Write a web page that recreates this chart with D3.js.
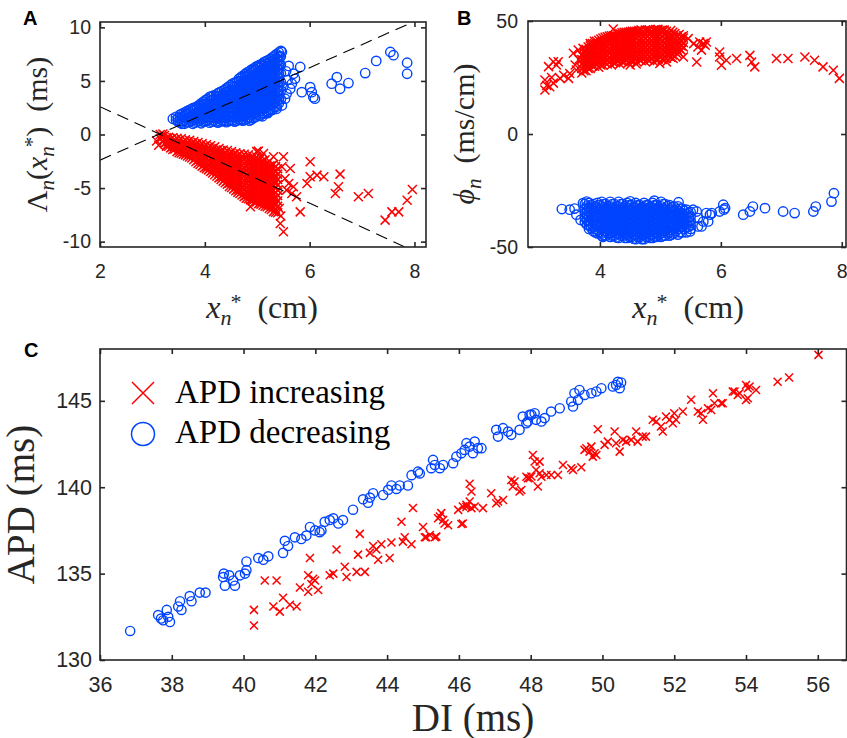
<!DOCTYPE html>
<html>
<head>
<meta charset="utf-8">
<script src="https://cdn.jsdelivr.net/npm/d3@7"></script>
<style>
  body { margin: 0; background: #fff; }
  svg { display: block; }
</style>
</head>
<body>
<svg id="fig" width="847" height="738"></svg>
<script>
// ---------- panel A : Lambda_n(x*_n) ----------
// dense parts stored as columns: [x, y1, y2, ...]
var aDecCols = [
  [3.45,1.35,1.65],
  [3.49,1.2,1.55],
  [3.53,1.1,1.5,1.85],
  [3.57,1.25,1.65,1.95],
  [3.61,1.0,1.35,1.75,2.05],
  [3.65,1.15,1.55,1.9,2.15],
  [3.69,1.15,1.55,1.95,2.25],
  [3.73,1.25,1.65,2.05,2.35],
  [3.77,1.0,1.4,1.8,2.2,2.45],
  [3.81,1.1,1.5,1.9,2.3,2.5],
  [3.85,1.2,1.6,2.0,2.4,2.6],
  [3.89,1.25,1.65,2.05,2.45,2.75],
  [3.93,1.05,1.45,1.85,2.25,2.65,2.9],
  [3.97,1.2,1.6,2.0,2.4,2.8,3.05],
  [4.01,1.25,1.65,2.05,2.45,2.85,3.2],
  [4.05,1.3,1.7,2.1,2.5,2.9,3.3],
  [4.09,1.1,1.5,1.9,2.3,2.7,3.1,3.5],
  [4.13,1.2,1.6,2.0,2.4,2.8,3.2,3.55],
  [4.17,1.3,1.7,2.1,2.5,2.9,3.3,3.65],
  [4.21,1.2,1.6,2.0,2.4,2.8,3.2,3.6],
  [4.25,1.1,1.5,1.9,2.3,2.7,3.1,3.5,3.85],
  [4.29,1.2,1.6,2.0,2.4,2.8,3.2,3.6,3.95],
  [4.33,1.3,1.7,2.1,2.5,2.9,3.3,3.7,4.05],
  [4.37,1.25,1.65,2.05,2.45,2.85,3.25,3.65,4.15],
  [4.41,1.15,1.55,1.95,2.35,2.75,3.15,3.55,3.95,4.3],
  [4.45,1.25,1.65,2.05,2.45,2.85,3.25,3.65,4.05,4.45],
  [4.49,1.35,1.75,2.15,2.55,2.95,3.35,3.75,4.15,4.6],
  [4.53,1.3,1.7,2.1,2.5,2.9,3.3,3.7,4.1,4.5,4.75],
  [4.57,1.2,1.6,2.0,2.4,2.8,3.2,3.6,4.0,4.4,4.85],
  [4.61,1.3,1.7,2.1,2.5,2.9,3.3,3.7,4.1,4.5,4.9],
  [4.65,1.4,1.8,2.2,2.6,3.0,3.4,3.8,4.2,4.6,5.0,5.2],
  [4.69,1.35,1.75,2.15,2.55,2.95,3.35,3.75,4.15,4.55,4.95,5.35],
  [4.73,1.3,1.7,2.1,2.5,2.9,3.3,3.7,4.1,4.5,4.9,5.5],
  [4.77,1.4,1.8,2.2,2.6,3.0,3.4,3.8,4.2,4.6,5.0,5.4,5.65],
  [4.81,1.5,1.9,2.3,2.7,3.1,3.5,3.9,4.3,4.7,5.1,5.5,5.8],
  [4.85,1.6,2.0,2.4,2.8,3.2,3.6,4.0,4.4,4.8,5.2,5.6,5.9],
  [4.89,1.4,1.8,2.2,2.6,3.0,3.4,3.8,4.2,4.6,5.0,5.4,5.8,6.05],
  [4.93,1.55,1.95,2.35,2.75,3.15,3.55,3.95,4.35,4.75,5.15,5.55,5.95,6.15],
  [4.97,1.65,2.05,2.45,2.85,3.25,3.65,4.05,4.45,4.85,5.25,5.65,6.05,6.3],
  [5.01,1.85,2.25,2.65,3.05,3.45,3.85,4.25,4.65,5.05,5.45,5.85,6.25,6.4],
  [5.05,1.75,2.2,2.6,3.0,3.4,3.8,4.2,4.6,5.0,5.4,5.8,6.2,6.5],
  [5.09,2.0,2.4,2.8,3.2,3.6,4.0,4.4,4.8,5.2,5.6,6.0,6.4,6.6],
  [5.13,1.95,2.4,2.8,3.2,3.6,4.0,4.4,4.8,5.2,5.6,6.0,6.4,6.75],
  [5.17,2.2,2.6,3.0,3.4,3.8,4.2,4.6,5.0,5.4,5.8,6.2,6.6,6.85],
  [5.21,2.1,2.6,3.0,3.4,3.8,4.2,4.6,5.0,5.4,5.8,6.2,6.6,6.95],
  [5.25,2.4,2.8,3.2,3.6,4.0,4.4,4.8,5.2,5.6,6.0,6.4,6.8,7.05],
  [5.29,2.3,2.8,3.2,3.6,4.0,4.4,4.8,5.2,5.6,6.0,6.4,6.8,7.2],
  [5.33,2.6,3.0,3.4,3.8,4.2,4.6,5.0,5.4,5.8,6.2,6.6,7.0,7.35],
  [5.37,2.6,3.1,3.5,3.9,4.3,4.7,5.1,5.5,5.9,6.3,6.7,7.1,7.5],
  [5.41,2.9,3.3,3.7,4.1,4.5,4.9,5.3,5.7,6.1,6.5,6.9,7.3,7.65],
  [5.45,3.3,4.1,4.9,5.7,6.5,7.3,7.8]
];
var aDecPts = [
  [3.39,1.47],[3.56,1.0],[5.47,7.7],[5.44,7.23],[5.82,6.3],[5.69,5.67],[5.72,5.2],
  [5.66,4.74],[5.63,4.27],[5.56,3.8],[5.53,3.34],[5.47,2.71],[5.37,2.4],[5.25,2.24],
  [5.05,1.78],[5.85,3.95],[6.01,4.42],[6.04,3.95],[6.07,3.48],[6.1,3.34],[6.42,4.74],
  [6.52,5.35],[6.58,4.27],[6.74,4.8],[7.06,5.73],[7.27,6.87],[7.54,7.7],[7.6,7.4],
  [7.86,6.7],[7.86,5.67],[5.55,5.9],[5.6,6.4],[5.5,4.5],[5.58,5.1],[5.2,2.0],
  [4.85,1.3],[5.1,1.7]
];
var aIncCols = [
  [3.15,0.0,-0.4],
  [3.19,-0.2,-0.6],
  [3.23,-0.1,-0.5,-0.85],
  [3.27,-0.3,-0.7,-1.0],
  [3.31,-0.25,-0.65,-1.1],
  [3.35,-0.4,-0.85,-1.25],
  [3.39,-0.3,-0.75,-1.15,-1.4],
  [3.43,-0.5,-0.95,-1.35],
  [3.47,-0.35,-0.8,-1.2,-1.6],
  [3.51,-0.55,-1.0,-1.45,-1.7],
  [3.55,-0.4,-0.85,-1.3,-1.75],
  [3.59,-0.65,-1.1,-1.55,-1.85],
  [3.63,-0.5,-0.95,-1.35,-1.9],
  [3.67,-0.7,-1.15,-1.6,-2.0],
  [3.71,-0.55,-1.0,-1.45,-1.85,-2.1],
  [3.75,-0.8,-1.25,-1.7,-2.2],
  [3.79,-0.65,-1.1,-1.5,-1.95,-2.35],
  [3.83,-0.9,-1.35,-1.8,-2.2,-2.55],
  [3.87,-0.75,-1.2,-1.6,-2.0,-2.4,-2.7],
  [3.91,-1.0,-1.45,-1.9,-2.3,-2.8],
  [3.95,-0.85,-1.3,-1.7,-2.1,-2.55,-2.95],
  [3.99,-1.1,-1.55,-2.0,-2.4,-2.8,-3.1],
  [4.03,-0.95,-1.4,-1.8,-2.2,-2.6,-3.0,-3.2],
  [4.07,-1.2,-1.65,-2.1,-2.5,-2.9,-3.3],
  [4.11,-1.05,-1.5,-1.9,-2.3,-2.7,-3.1,-3.45],
  [4.15,-1.3,-1.7,-2.1,-2.5,-2.9,-3.3,-3.6],
  [4.19,-1.15,-1.6,-2.0,-2.45,-2.85,-3.25,-3.75],
  [4.23,-1.45,-1.85,-2.25,-2.65,-3.05,-3.45,-3.9],
  [4.27,-1.3,-1.7,-2.1,-2.5,-2.9,-3.3,-3.7,-4.05],
  [4.31,-1.5,-1.95,-2.35,-2.75,-3.15,-3.55,-3.95,-4.2],
  [4.35,-1.45,-1.9,-2.3,-2.7,-3.1,-3.5,-3.9,-4.35],
  [4.39,-1.7,-2.1,-2.5,-2.9,-3.3,-3.7,-4.1,-4.5],
  [4.43,-1.5,-1.95,-2.35,-2.75,-3.15,-3.55,-3.95,-4.35,-4.65],
  [4.47,-1.75,-2.15,-2.55,-2.95,-3.35,-3.75,-4.15,-4.55,-4.85],
  [4.51,-1.6,-2.1,-2.5,-2.9,-3.3,-3.7,-4.1,-4.5,-4.95],
  [4.55,-1.85,-2.3,-2.7,-3.1,-3.5,-3.9,-4.3,-4.7,-5.1],
  [4.59,-1.7,-2.15,-2.55,-2.95,-3.35,-3.75,-4.15,-4.55,-4.95,-5.25],
  [4.63,-1.95,-2.35,-2.75,-3.15,-3.55,-3.95,-4.35,-4.75,-5.15,-5.4],
  [4.67,-1.8,-2.3,-2.7,-3.1,-3.5,-3.9,-4.3,-4.7,-5.1,-5.5],
  [4.71,-2.05,-2.5,-2.9,-3.3,-3.7,-4.1,-4.5,-4.9,-5.3,-5.65],
  [4.75,-1.85,-2.3,-2.7,-3.1,-3.5,-3.9,-4.3,-4.7,-5.1,-5.5,-5.8],
  [4.79,-2.1,-2.5,-2.9,-3.3,-3.7,-4.1,-4.5,-4.9,-5.3,-5.7,-5.95],
  [4.83,-1.9,-2.4,-2.8,-3.2,-3.6,-4.0,-4.4,-4.8,-5.2,-5.6,-6.0],
  [4.87,-2.2,-2.6,-3.0,-3.4,-3.8,-4.2,-4.6,-5.0,-5.4,-5.8,-6.1],
  [4.91,-2.0,-2.45,-2.85,-3.25,-3.65,-4.05,-4.45,-4.85,-5.25,-5.65,-6.05,-6.2],
  [4.95,-2.3,-2.8,-3.2,-3.6,-4.0,-4.4,-4.8,-5.2,-5.6,-6.0,-6.3],
  [4.99,-2.1,-2.6,-3.0,-3.4,-3.8,-4.2,-4.6,-5.0,-5.4,-5.8,-6.3],
  [5.03,-2.4,-2.85,-3.25,-3.65,-4.05,-4.45,-4.85,-5.25,-5.65,-6.05,-6.45],
  [5.07,-2.2,-2.65,-3.05,-3.45,-3.85,-4.25,-4.65,-5.05,-5.45,-5.85,-6.25,-6.5],
  [5.11,-2.55,-3.0,-3.4,-3.8,-4.2,-4.6,-5.0,-5.4,-5.8,-6.2,-6.6],
  [5.15,-2.35,-2.8,-3.2,-3.6,-4.0,-4.4,-4.8,-5.2,-5.6,-6.0,-6.4,-6.7],
  [5.19,-2.7,-3.15,-3.55,-3.95,-4.35,-4.75,-5.15,-5.55,-5.95,-6.35,-6.75],
  [5.23,-2.5,-2.95,-3.35,-3.75,-4.15,-4.55,-4.95,-5.35,-5.75,-6.15,-6.55,-6.9],
  [5.27,-2.9,-3.4,-3.8,-4.2,-4.6,-5.0,-5.4,-5.8,-6.2,-6.6,-7.0],
  [5.31,-2.8,-3.2,-3.6,-4.0,-4.4,-4.8,-5.2,-5.6,-6.0,-6.4,-6.8,-7.2],
  [5.35,-3.0,-3.45,-3.95,-4.45,-4.95,-5.45,-5.95,-6.45,-6.95,-7.25],
  [5.39,-3.2,-3.7,-4.2,-4.7,-5.2,-5.7,-6.2,-6.7,-7.3]
];
var aIncPts = [
  [3.08,-0.6],[3.12,-1.0],[3.27,-1.1],[3.2,0.05],[4.99,-1.6],[5.02,-1.55],[5.12,-1.77],
  [5.31,-2.08],[5.5,-2.08],[5.47,-3.01],[5.63,-3.17],[5.53,-4.1],[5.6,-4.57],[5.69,-4.88],
  [5.66,-5.5],[5.75,-5.81],[5.56,-5.19],[6.01,-2.54],[6.01,-3.95],[5.95,-4.57],[6.14,-3.79],
  [6.27,-3.95],[6.58,-3.7],[6.55,-4.88],[6.49,-5.5],[6.93,-5.81],[7.12,-5.5],[5.82,-7.22],
  [5.44,-8.3],[5.5,-9.08],[7.44,-7.99],[7.57,-7.22],[7.7,-7.22],[7.86,-6.13],[7.96,-5.13],
  [4.87,-6.75],[5.45,-7.6],[5.42,-6.9]
];
// dashed guide lines (end points)
var guideUp = [[2, -2.4], [8.22, 11.03]];
var guideDown = [[2, 2.6], [8.22, -11.4]];

// ---------- panel B : phi_n ----------
var bIncCols = [
  [3.70,27,29,31,33,35],
  [3.735,28,30,32,34,36],
  [3.77,28,30,32,34,36,37.5],
  [3.805,29,31,33,35,37,38.5],
  [3.84,29,31,33,35,37,39,40],
  [3.875,30,32,34,36,38,40],
  [3.91,30,32,34,36,38,40,41],
  [3.945,31,33,35,37,39,41],
  [3.98,29.5,31.5,33.5,35.5,37.5,39.5,41.5],
  [4.015,30.5,32.5,34.5,36.5,38.5,40.5,42],
  [4.05,30.5,32.5,34.5,36.5,38.5,40.5,42.5],
  [4.085,31.5,33.5,35.5,37.5,39.5,41.5,42.8],
  [4.12,31,33,35,37,39,41,43],
  [4.155,32,34,36,38,40,42,43.3],
  [4.19,30.5,32.5,34.5,36.5,38.5,40.5,42.5,43.5],
  [4.225,31.5,33.5,35.5,37.5,39.5,41.5,43.5],
  [4.26,31.5,33.5,35.5,37.5,39.5,41.5,43.5],
  [4.295,32.5,34.5,36.5,38.5,40.5,42.5,44.3],
  [4.33,31,33,35,37,39,41,43,44.5],
  [4.365,32,34,36,38,40,42,44,44.8],
  [4.40,32,34,36,38,40,42,44,45],
  [4.435,33,35,37,39,41,43,45],
  [4.47,31.5,33.5,35.5,37.5,39.5,41.5,43.5,45],
  [4.505,32.5,34.5,36.5,38.5,40.5,42.5,44.5,45.3],
  [4.54,32.5,34.5,36.5,38.5,40.5,42.5,44.5,45.5],
  [4.575,33.5,35.5,37.5,39.5,41.5,43.5,45.5],
  [4.61,32,34,36,38,40,42,44,45.5],
  [4.645,33,35,37,39,41,43,45,45.8],
  [4.68,32.5,34.5,36.5,38.5,40.5,42.5,44.5,46],
  [4.715,33.5,35.5,37.5,39.5,41.5,43.5,45.5],
  [4.75,32,34,36,38,40,42,44,46],
  [4.785,33,35,37,39,41,43,45,46],
  [4.82,32.5,34.5,36.5,38.5,40.5,42.5,44.5,46],
  [4.855,33.5,35.5,37.5,39.5,41.5,43.5,45.5],
  [4.89,32,34,36,38,40,42,44,46],
  [4.925,33,35,37,39,41,43,45,46.2],
  [4.96,33,35,37,39,41,43,45,46.3],
  [4.995,34,36,38,40,42,44,45.8],
  [5.03,33,35,37,39,41,43,45,46],
  [5.065,34,36,38,40,42,44,46],
  [5.10,33.5,35.5,37.5,39.5,41.5,43.5,45.5],
  [5.135,34.5,36.5,38.5,40.5,42.5,44.5],
  [5.17,34,36,38,40,42,44,45.8],
  [5.205,35,37,39,41,43,45],
  [5.24,34.5,36.5,38.5,40.5,42.5,44.5],
  [5.275,35.5,37.5,39.5,41.5,43.5],
  [5.31,36,38,40,42,44],
  [5.345,37,39,41,43],
  [5.38,38.5,40.5,42.5,43.5]
];
var bIncPts = [
  [3.09,19.5],[3.09,23.9],[3.17,20.9],[3.23,22.5],[3.34,24.6],[3.48,24.6],[3.15,29.8],
  [3.23,32.0],[3.31,32.0],[3.28,30.5],[3.56,35.7],[3.64,37.2],[3.72,37.9],[3.59,30.5],
  [3.61,28.3],[3.5,26.8],[3.12,21.5],[3.2,25],[3.4,26],[3.65,33],[4.99,31.2],[5.1,31.9],
  [5.21,33.4],[5.38,34.1],[5.46,42.2],[5.55,40.0],[5.62,38.5],[5.68,37.1],[5.74,39.3],
  [5.65,40.7],[5.76,40.7],[5.6,31.9],[5.71,40.0],[5.98,36.3],[5.98,34.1],[6.01,30.4],
  [6.09,32.6],[6.26,33.4],[6.48,34.8],[6.51,31.9],[6.56,29.7],[6.92,33.4],[7.11,33.4],
  [7.39,34.1],[7.55,32.6],[7.69,29.7],[7.86,28.2],[7.96,24.6],[4.22,46.5],[4.6,31],[4.5,30.5]
];
var bDecCols = [
  [3.75,-31,-33,-35,-37,-39],
  [3.785,-32,-34,-36,-38,-40],
  [3.82,-30.5,-32.5,-34.5,-36.5,-38.5,-40.5,-42],
  [3.855,-31.5,-33.5,-35.5,-37.5,-39.5,-41.5],
  [3.89,-31,-33,-35,-37,-39,-41,-43],
  [3.925,-32,-34,-36,-38,-40,-42,-43.5],
  [3.96,-30.5,-32.5,-34.5,-36.5,-38.5,-40.5,-42.5,-44],
  [3.995,-31.5,-33.5,-35.5,-37.5,-39.5,-41.5,-43.5],
  [4.03,-30,-32,-34,-36,-38,-40,-42,-44,-45],
  [4.065,-31,-33,-35,-37,-39,-41,-43,-44.8],
  [4.10,-31,-33,-35,-37,-39,-41,-43,-45],
  [4.135,-32,-34,-36,-38,-40,-42,-44],
  [4.17,-30,-32,-34,-36,-38,-40,-42,-44,-45.5],
  [4.205,-31,-33,-35,-37,-39,-41,-43,-45],
  [4.24,-31,-33,-35,-37,-39,-41,-43,-45],
  [4.275,-32,-34,-36,-38,-40,-42,-44,-45.8],
  [4.31,-30,-32,-34,-36,-38,-40,-42,-44,-46],
  [4.345,-31,-33,-35,-37,-39,-41,-43,-45],
  [4.38,-31,-33,-35,-37,-39,-41,-43,-45],
  [4.415,-32,-34,-36,-38,-40,-42,-44,-46],
  [4.45,-30.5,-32.5,-34.5,-36.5,-38.5,-40.5,-42.5,-44.5,-46],
  [4.485,-31.5,-33.5,-35.5,-37.5,-39.5,-41.5,-43.5,-45.5],
  [4.52,-31.5,-33.5,-35.5,-37.5,-39.5,-41.5,-43.5,-45.5],
  [4.555,-32.5,-34.5,-36.5,-38.5,-40.5,-42.5,-44.5,-46.3],
  [4.59,-30.5,-32.5,-34.5,-36.5,-38.5,-40.5,-42.5,-44.5,-46.5],
  [4.625,-31.5,-33.5,-35.5,-37.5,-39.5,-41.5,-43.5,-45.5],
  [4.66,-31.5,-33.5,-35.5,-37.5,-39.5,-41.5,-43.5,-45.5],
  [4.695,-32.5,-34.5,-36.5,-38.5,-40.5,-42.5,-44.5,-46.5],
  [4.73,-30.5,-32.5,-34.5,-36.5,-38.5,-40.5,-42.5,-44.5,-46.5],
  [4.765,-31.5,-33.5,-35.5,-37.5,-39.5,-41.5,-43.5,-45.5],
  [4.80,-31.5,-33.5,-35.5,-37.5,-39.5,-41.5,-43.5,-45.5],
  [4.835,-32.5,-34.5,-36.5,-38.5,-40.5,-42.5,-44.5,-46],
  [4.87,-30.5,-32.5,-34.5,-36.5,-38.5,-40.5,-42.5,-44.5,-46],
  [4.905,-31.5,-33.5,-35.5,-37.5,-39.5,-41.5,-43.5,-45.5],
  [4.94,-31.5,-33.5,-35.5,-37.5,-39.5,-41.5,-43.5,-45.5],
  [4.975,-32.5,-34.5,-36.5,-38.5,-40.5,-42.5,-44.5],
  [5.01,-30,-32,-34,-36,-38,-40,-42,-44,-45.5],
  [5.045,-31,-33,-35,-37,-39,-41,-43,-45],
  [5.08,-31,-33,-35,-37,-39,-41,-43,-45],
  [5.115,-32,-34,-36,-38,-40,-42,-44],
  [5.15,-31.5,-33.5,-35.5,-37.5,-39.5,-41.5,-43.5,-45],
  [5.185,-32.5,-34.5,-36.5,-38.5,-40.5,-42.5,-44.5],
  [5.22,-32,-34,-36,-38,-40,-42,-44],
  [5.255,-33,-35,-37,-39,-41,-43],
  [5.29,-32,-34,-36,-38,-40,-42,-44.5],
  [5.325,-33,-35,-37,-39,-41,-43.5],
  [5.36,-33,-35,-37,-39,-41,-43.5],
  [5.395,-34,-36,-38,-40,-42],
  [5.43,-33.5,-35.5,-37.5,-39.5,-41.5,-43.5],
  [5.465,-35,-37,-39,-41],
  [5.50,-34.5,-36.5,-38.5,-40.5,-42]
];
var bDecPts = [
  [3.37,-33.2],[3.5,-33.5],[3.61,-35.7],[3.72,-30.6],[3.68,-38],[3.78,-29.9],[3.58,-33],
  [5.54,-33.5],[5.62,-37.2],[5.71,-38.7],[5.76,-35.0],[5.62,-40.9],[5.49,-43.1],[5.85,-35],
  [5.6,-34.3],[5.68,-40.9],[5.82,-35.7],[5.79,-38.7],[5.98,-34.3],[6.04,-31.3],[6.07,-32.8],
  [6.05,-33.5],[6.37,-35.7],[6.48,-34.3],[6.53,-32.1],[6.73,-32.8],[7.03,-34.3],[7.22,-35.0],
  [7.53,-34.3],[7.57,-32.1],[7.83,-29.9],[7.87,-26.2],[4.05,-45.5],[4.9,-29.5],[4.5,-29.8],
  [5.3,-30.2]
];

// ---------- panel C : APD vs DI ----------
var cDecreasing = [
  [36.84,131.68],[37.62,132.6],[37.76,132.3],[37.90,132.5],[37.86,132.9],[37.95,132.2],
  [38.18,133.1],[38.23,133.4],[38.27,132.9],[37.7,132.4],[38.5,133.7],[38.55,133.4],
  [38.78,133.9],[38.94,133.9],[39.43,134.8],[39.48,134.3],[39.71,134.6],[39.76,134.3],
  [39.9,134.9],[40.08,135.2],[40.08,135.7],[40.04,135.0],[39.45,135.0],[39.6,134.9],
  [40.41,135.9],[40.55,135.8],[40.69,136.0],[41.10,136.2],[41.15,136.9],[41.24,136.6],
  [41.43,137.1],[41.61,137.0],[41.75,137.2],[41.85,137.7],[41.99,137.5],[42.12,137.4],
  [42.26,138.0],[42.40,138.1],[42.17,137.5],[42.5,138.2],[42.64,137.9],[42.77,138.1],
  [43.05,138.7],[43.33,139.3],[43.47,139.1],[43.61,139.65],[43.52,139.4],[43.89,139.55],
  [44.03,139.85],[44.12,140.1],[44.26,139.9],[44.35,140.1],[44.58,140.1],[44.68,140.7],
  [44.86,140.9],[44.91,140.8],[45.28,141.58],[45.33,141.29],[45.23,141.1],[45.47,141.1],
  [45.56,141.29],[45.84,141.39],[45.93,141.77],[46.07,141.97],[46.16,142.16],[46.21,142.55],
  [46.3,142.35],[46.44,142.64],[46.39,141.97],[46.53,142.26],[46.63,142.26],[47.04,143.32],
  [47.09,142.93],[47.23,143.42],[47.37,143.22],[47.46,143.03],[47.69,143.32],[47.78,144.09],
  [47.92,143.8],[47.97,144.19],[48.11,144.28],[48.15,143.9],[48.3,143.8],[48.39,144.0],
  [48.57,144.38],[48.81,144.57],[47.88,143.7],[48.02,144.2],[49.13,144.96],[49.22,145.44],
  [49.32,145.05],[49.36,145.63],[49.18,144.67],[49.5,145.34],[49.69,145.44],[49.83,145.54],
  [49.97,145.73],[50.29,145.83],[50.43,146.1],[50.48,145.73],[50.38,145.92],[50.52,146.06]
];
var cIncreasing = [
  [40.29,132.9],[40.29,132.0],[40.59,134.6],[40.92,134.6],[40.83,133.1],[41.01,132.8],
  [41.1,133.6],[41.29,133.2],[41.48,133.1],[41.57,134.2],[41.85,135.9],[41.8,134.9],
  [41.89,134.4],[41.94,134.7],[41.99,134.6],[41.8,133.95],[42.08,134.05],[42.59,136.4],
  [42.4,134.9],[42.5,135.0],[42.82,135.4],[42.87,134.8],[43.15,135.1],[43.38,135.1],
  [43.19,136.1],[43.24,137.3],[43.52,136.2],[43.61,136.6],[43.7,136.4],[43.75,135.8],
  [43.84,136.7],[44.07,135.9],[44.12,136.8],[44.4,138.0],[44.44,136.85],[44.49,137.1],
  [44.68,136.7],[44.72,138.8],[45.0,137.7],[45.09,137.1],[45.19,137.24],[45.37,137.14],
  [45.47,138.3],[45.51,138.5],[45.56,138.1],[45.6,137.9],[45.7,137.8],[45.42,138.2],
  [46.11,137.9],[45.98,138.69],[46.11,138.88],[46.21,138.98],[46.3,139.17],[46.35,138.79],
  [46.44,138.88],[46.67,138.79],[46.3,140.2],[46.35,139.75],[46.9,139.65],[47.04,139.07],
  [47.23,139.26],[47.46,140.42],[47.55,140.33],[47.5,140.04],[47.69,139.75],[47.74,139.84],
  [47.92,140.52],[48.02,140.62],[48.11,141.49],[48.15,141.0],[48.06,141.87],[48.25,141.48],
  [47.88,140.61],[47.97,140.52],[48.2,140.04],[48.25,140.81],[48.3,140.61],[48.44,140.71],
  [48.57,140.71],[48.76,140.71],[48.9,141.29],[49.13,141.1],[49.18,141.0],[49.41,141.16],
  [49.5,142.16],[49.55,142.26],[49.64,142.06],[49.73,141.77],[49.78,141.97],[49.83,141.87],
  [49.69,142.35],[49.87,143.36],[50.06,142.45],[50.15,142.64],[50.34,143.22],[50.38,142.55],
  [50.48,142.06],[50.57,142.74],[50.66,142.64],[50.8,142.74],[50.94,143.22],[50.98,142.64],
  [51.12,142.93],[51.21,142.93],[51.4,143.9],[51.5,143.8],[51.63,143.51],[51.68,143.22],
  [51.77,144.09],[51.87,143.9],[51.96,143.7],[52.0,144.28],[52.05,143.9],[52.24,144.38],
  [52.47,145.06],[52.66,144.38],[52.75,144.28],[52.8,143.9],[52.94,144.57],[53.03,144.47],
  [53.08,145.44],[53.12,144.86],[53.31,144.86],[53.63,145.54],[53.82,145.44],[54.0,145.92],
  [54.05,145.15],[53.35,144.86],[53.68,145.54],[53.77,145.34],[54.05,145.73],[54.1,145.83],
  [54.0,145.05],[54.28,145.63],[54.88,146.1],[55.2,146.35],[56.02,147.66],[45.05,137.1],
  [45.33,137.1],[46.07,137.87],[46.21,138.86],[47.09,139.17]
];

var xTicksA = [2, 4, 6, 8], yTicksA = [-10, -5, 0, 5, 10];
var xTicksB = [4, 6, 8], yTicksB = [-50, 0, 50];
var xTicksC = [36, 38, 40, 42, 44, 46, 48, 50, 52, 54, 56], yTicksC = [130, 135, 140, 145];
var legendLabels = ["APD increasing", "APD decreasing"];

var red = "#ff0000", blue = "#0044ff", ink = "#262626";
var svg = d3.select("#fig");
svg.append("rect").attr("width", 847).attr("height", 738).attr("fill", "#fff");

function cols2pts(cols) {
  return cols.flatMap(function (c) {
    return c.slice(1).map(function (y) { return [c[0], y]; });
  });
}

var xA = d3.scaleLinear().domain([2, 8.22]).range([100, 426]);
var yA = d3.scaleLinear().domain([-10.5, 10.5]).range([247, 22]);
var xB = d3.scaleLinear().domain([2.81, 8.07]).range([528, 846]);
var yB = d3.scaleLinear().domain([-50, 50]).range([247, 21]);
var xC = d3.scaleLinear().domain([36, 56.8]).range([100, 846.5]);
var yC = d3.scaleLinear().domain([130, 148]).range([660, 349]);

function crosses(pts, x, y, h, w) {
  svg.append("g").selectAll("path").data(pts).enter().append("path")
    .attr("d", function (d) {
      var px = x(d[0]), py = y(d[1]);
      return "M" + (px - h) + "," + (py - h) + "L" + (px + h) + "," + (py + h) +
        "M" + (px - h) + "," + (py + h) + "L" + (px + h) + "," + (py - h);
    })
    .attr("stroke", red).attr("stroke-width", w).attr("fill", "none");
}
function circles(pts, x, y, r, w) {
  svg.append("g").selectAll("circle").data(pts).enter().append("circle")
    .attr("cx", function (d) { return x(d[0]); })
    .attr("cy", function (d) { return y(d[1]); })
    .attr("r", r)
    .attr("stroke", blue).attr("stroke-width", w).attr("fill", "none");
}

// axes box with inward ticks on four sides
function frame(x, y, xt, yt, fs, padX, padY) {
  var xr = x.range(), yr = y.range();
  var fmt = function (d) { return String(d); };
  var g = svg.append("g").attr("color", ink);
  g.append("g").attr("transform", "translate(0," + yr[0] + ")")
    .call(d3.axisBottom(x).tickValues(xt).tickSizeInner(-5).tickSizeOuter(0).tickPadding(padX).tickFormat(fmt));
  g.append("g").attr("transform", "translate(0," + yr[1] + ")")
    .call(d3.axisTop(x).tickValues(xt).tickSizeInner(-5).tickSizeOuter(0).tickFormat(""));
  g.append("g").attr("transform", "translate(" + xr[0] + ",0)")
    .call(d3.axisLeft(y).tickValues(yt).tickSizeInner(-5).tickSizeOuter(0).tickPadding(padY).tickFormat(fmt));
  g.append("g").attr("transform", "translate(" + xr[1] + ",0)")
    .call(d3.axisRight(y).tickValues(yt).tickSizeInner(-5).tickSizeOuter(0).tickFormat(""));
  g.selectAll(".domain").remove();
  g.selectAll(".tick line").attr("stroke-width", 1.6);
  g.selectAll("text").attr("font-size", fs).attr("font-family", "Liberation Sans, Arial, sans-serif");
  g.append("rect").attr("x", xr[0]).attr("y", yr[1])
    .attr("width", xr[1] - xr[0]).attr("height", yr[0] - yr[1])
    .attr("fill", "none").attr("stroke", ink).attr("stroke-width", 1.6);
}

// ----- panel A -----
circles(cols2pts(aDecCols).concat(aDecPts), xA, yA, 4.7, 1.4);
crosses(cols2pts(aIncCols).concat(aIncPts), xA, yA, 4.5, 1.5);
svg.append("clipPath").attr("id", "clipA").append("rect")
  .attr("x", 100).attr("y", 22).attr("width", 326).attr("height", 225);
var guide = d3.line().x(function (d) { return xA(d[0]); }).y(function (d) { return yA(d[1]); });
[guideUp, guideDown].forEach(function (l) {
  svg.append("path").attr("d", guide(l)).attr("clip-path", "url(#clipA)")
    .attr("fill", "none").attr("stroke", "#000").attr("stroke-width", 1.1)
    .attr("stroke-dasharray", "12,7");
});
frame(xA, yA, xTicksA, yTicksA, 19.5, 17, 9);

// ----- panel B -----
crosses(cols2pts(bIncCols).concat(bIncPts), xB, yB, 4.5, 1.5);
circles(cols2pts(bDecCols).concat(bDecPts), xB, yB, 4.7, 1.4);
frame(xB, yB, xTicksB, yTicksB, 19.5, 17, 10);

// ----- panel C -----
crosses(cIncreasing, xC, yC, 4, 1.5);
circles(cDecreasing, xC, yC, 4.6, 1.4);
frame(xC, yC, xTicksC, yTicksC, 21.5, 17, 8);

// legend
var serif = "Liberation Serif, Times New Roman, serif";
var lg = svg.append("g");
lg.append("path").attr("d", "M132,382L154,404M132,404L154,382")
  .attr("stroke", red).attr("stroke-width", 1.5).attr("fill", "none");
lg.append("circle").attr("cx", 143).attr("cy", 434).attr("r", 11.5)
  .attr("stroke", blue).attr("stroke-width", 1.5).attr("fill", "none");
lg.selectAll("text").data(legendLabels).enter().append("text")
  .attr("x", 175).attr("y", function (d, i) { return 403 + i * 40; })
  .attr("font-family", serif).attr("font-size", 33).attr("fill", "#000")
  .text(function (d) { return d; });

// ----- axis labels -----
function mathLabel(x, y, fs, rotate, parts) {
  var t = svg.append("text").attr("font-family", serif).attr("font-size", fs)
    .attr("fill", ink).attr("text-anchor", "middle")
    .attr("transform", "translate(" + x + "," + y + ")" + (rotate ? " rotate(-90)" : ""));
  parts.forEach(function (p) {
    var s = t.append("tspan").text(p.t);
    if (p.it) s.attr("font-style", "italic");
    if (p.fs) s.attr("font-size", p.fs);
    if (p.dx) s.attr("dx", p.dx);
    if (p.dy) s.attr("dy", p.dy);
  });
}
// x*_n : subscript n then raised star
var xstar = function (fs) {
  var sm = Math.round(fs * 0.7);
  return [
    { t: "x", it: true },
    { t: "n", it: true, fs: sm, dy: fs * 0.22 },
    { t: "*", fs: sm, dx: -1, dy: -fs * 0.5 },
  ];
};
mathLabel(262, 318, 32, false, xstar(32).concat([{ t: "\u2002(cm)", dy: 32 * 0.28 }]));
mathLabel(688, 318, 32, false, xstar(32).concat([{ t: "\u2002(cm)", dy: 32 * 0.28 }]));
mathLabel(47, 134.5, 30, true,
  [{ t: "\u039B" }, { t: "n", it: true, fs: 21, dy: 6.6 }, { t: "(", dy: -6.6 }]
    .concat(xstar(30))
    .concat([{ t: ")", dy: 30 * 0.28 }, { t: "\u2002(ms)" }]));
mathLabel(474, 134, 30, true,
  [{ t: "\u03D5", it: true }, { t: "n", it: true, fs: 21, dy: 6.6 }, { t: "\u2002(ms/cm)", dy: -6.6 }]);
mathLabel(34, 504.5, 39, true, [{ t: "APD (ms)" }]);
mathLabel(473, 731, 39, false, [{ t: "DI (ms)" }]);

// panel letters
[["A", 23, 25], ["B", 457, 25], ["C", 24, 357]].forEach(function (l) {
  svg.append("text").attr("x", l[1]).attr("y", l[2]).text(l[0])
    .attr("font-family", "Liberation Sans, Arial, sans-serif").attr("font-weight", "bold")
    .attr("font-size", 20).attr("fill", "#000");
});
</script>
</body>
</html>
